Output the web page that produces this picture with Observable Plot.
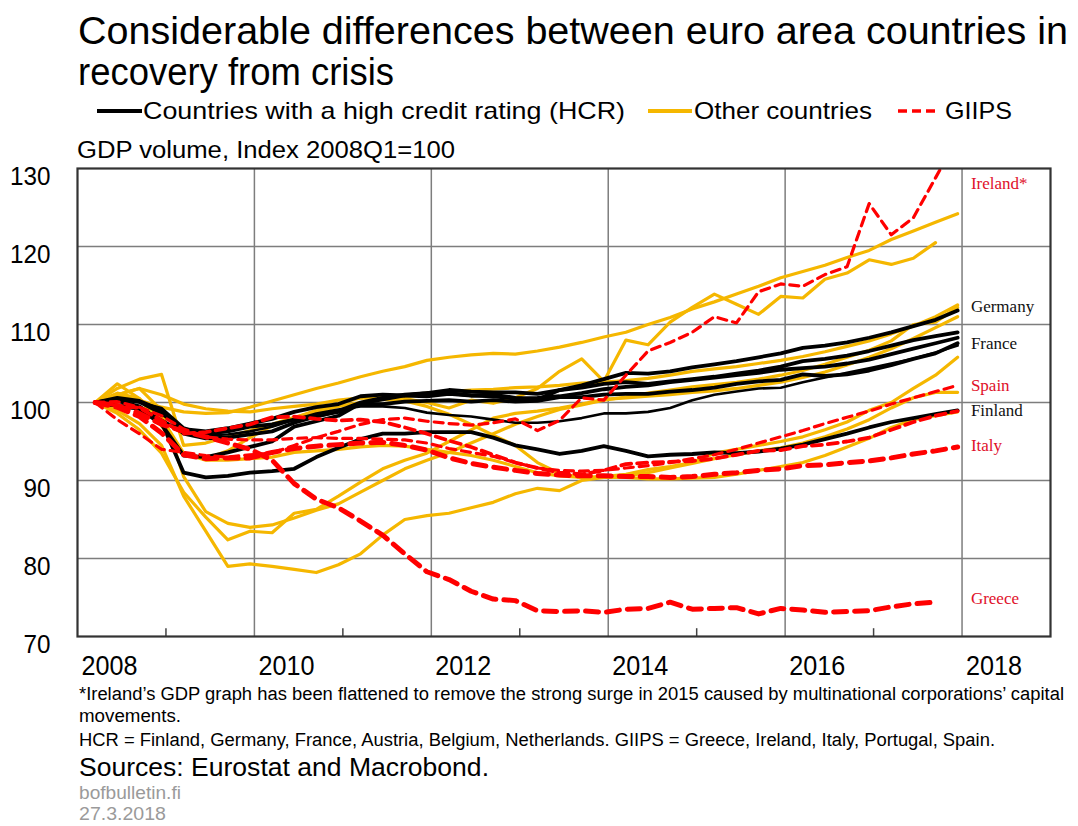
<!DOCTYPE html>
<html>
<head>
<meta charset="utf-8">
<script src="https://cdn.jsdelivr.net/npm/d3@7"></script>
<script src="https://cdn.jsdelivr.net/npm/@observablehq/plot@0.6"></script>
<style>
  html, body { margin: 0; padding: 0; background: #fff; }
  #wrap { position: relative; width: 1078px; height: 826px; overflow: hidden; font-family: "Liberation Sans", Arial, sans-serif; }
  #overlay { position: absolute; left: 0; top: 0; }
  #chart { position: absolute; left: 0; top: 120px; }
</style>
</head>
<body>
<div id="wrap">
  <svg id="overlay" width="1078" height="826" font-family="Liberation Sans, Arial, sans-serif">
    <text x="78" y="44" font-size="38" fill="#000" textLength="990" lengthAdjust="spacingAndGlyphs">Considerable differences between euro area countries in</text>
    <text x="78" y="85" font-size="38" fill="#000" textLength="316" lengthAdjust="spacingAndGlyphs">recovery from crisis</text>
    <line x1="97" x2="142" y1="111" y2="111" stroke="#000" stroke-width="4"/>
    <text x="143" y="119" font-size="24" fill="#000" textLength="482" lengthAdjust="spacingAndGlyphs">Countries with a high credit rating (HCR)</text>
    <line x1="648" x2="692" y1="111" y2="111" stroke="#F5B700" stroke-width="4"/>
    <text x="694" y="119" font-size="24" fill="#000" textLength="178" lengthAdjust="spacingAndGlyphs">Other countries</text>
    <line x1="898" x2="936" y1="111" y2="111" stroke="#FF0000" stroke-width="3.5" stroke-dasharray="9,5"/>
    <text x="945" y="119" font-size="24" fill="#000" textLength="67" lengthAdjust="spacingAndGlyphs">GIIPS</text>
    <text x="77" y="158" font-size="23" fill="#000" textLength="378" lengthAdjust="spacingAndGlyphs">GDP volume, Index 2008Q1=100</text>
    <text x="79" y="700" font-size="18" fill="#000" textLength="985" lengthAdjust="spacingAndGlyphs">*Ireland’s GDP graph has been flattened to remove the strong surge in 2015 caused by multinational corporations’ capital</text>
    <text x="79" y="722" font-size="18" fill="#000" textLength="102" lengthAdjust="spacingAndGlyphs">movements.</text>
    <text x="79" y="746" font-size="18" fill="#000" textLength="916" lengthAdjust="spacingAndGlyphs">HCR = Finland, Germany, France, Austria, Belgium, Netherlands. GIIPS = Greece, Ireland, Italy, Portugal, Spain.</text>
    <text x="79" y="776" font-size="26" fill="#000" textLength="410" lengthAdjust="spacingAndGlyphs">Sources: Eurostat and Macrobond.</text>
    <text x="79" y="799" font-size="18" fill="#9a9a9a" textLength="102" lengthAdjust="spacingAndGlyphs">bofbulletin.fi</text>
    <text x="79" y="820" font-size="18" fill="#9a9a9a" textLength="87" lengthAdjust="spacingAndGlyphs">27.3.2018</text>
  </svg>
  <div id="chart"></div>
</div>
<script>
// ---------- DATA ----------
const quarters = [
  "2008Q1","2008Q2","2008Q3","2008Q4","2009Q1","2009Q2","2009Q3","2009Q4",
  "2010Q1","2010Q2","2010Q3","2010Q4","2011Q1","2011Q2","2011Q3","2011Q4",
  "2012Q1","2012Q2","2012Q3","2012Q4","2013Q1","2013Q2","2013Q3","2013Q4",
  "2014Q1","2014Q2","2014Q3","2014Q4","2015Q1","2015Q2","2015Q3","2015Q4",
  "2016Q1","2016Q2","2016Q3","2016Q4","2017Q1","2017Q2","2017Q3","2017Q4"
];

// Countries with a high credit rating (HCR)
const germany = [100,99.6,99.2,97.2,93.2,93.0,93.6,94.3,95.0,96.9,97.6,98.3,99.9,100.4,100.9,100.8,101.1,100.9,101.0,100.6,100.4,101.6,102.2,103.0,103.8,103.7,104.0,104.5,104.9,105.3,105.8,106.3,107.0,107.3,107.7,108.3,109.0,109.8,110.6,111.8];
const austria = [100,100.6,100.2,99.0,96.0,95.4,95.5,95.9,96.3,97.4,98.2,98.9,100.0,100.6,101.0,101.2,101.6,101.4,101.3,101.3,101.1,101.6,101.9,102.4,102.6,102.4,102.7,103.0,103.3,103.7,104.1,104.6,105.3,105.6,106.0,106.6,107.3,108.0,108.5,109.0];
const belgium = [100,100.4,100.1,98.6,96.6,96.3,96.7,97.3,97.9,98.8,99.4,99.8,100.8,101.0,100.9,101.2,101.2,100.9,100.8,100.5,100.6,100.8,101.2,101.7,102.0,102.2,102.6,102.9,103.2,103.5,103.8,104.2,104.4,104.6,105.0,105.5,106.2,106.9,107.6,108.3];
const france = [100,99.6,99.2,97.7,96.1,96.0,96.3,96.9,97.2,97.8,98.3,98.8,99.8,99.8,100.1,100.2,100.3,100.1,100.3,100.1,100.2,100.7,100.7,101.0,101.1,101.1,101.4,101.6,101.9,102.4,102.7,102.9,103.6,103.4,103.6,104.1,104.8,105.6,106.3,107.6];
const netherlands = [100,100.5,100.0,99.3,96.8,95.8,95.9,96.3,96.9,97.8,98.6,99.1,99.5,99.5,99.3,98.7,98.4,98.2,97.8,97.4,97.4,97.6,98.0,98.6,98.6,98.8,99.3,100.3,101.0,101.4,101.8,101.9,102.6,103.2,103.8,104.4,105.0,105.6,106.4,107.3];
const finland = [100,100.2,99.5,97.5,91.0,90.4,90.6,91.0,91.2,91.5,93.0,94.2,95.3,96.0,96.0,96.2,96.2,96.2,95.5,94.5,94.0,93.4,93.8,94.4,93.8,93.1,93.3,93.4,93.6,93.5,93.7,94.1,94.6,95.3,96.0,96.8,97.5,98.0,98.5,99.0];

// Other countries
const malta = [100,101.0,100.3,99.4,98.8,98.6,98.7,99.4,100.2,101.0,101.8,102.5,103.3,104.0,104.6,105.4,105.8,106.1,106.3,106.2,106.6,107.1,107.7,108.4,109.0,110.0,110.9,112.0,112.9,113.9,114.9,116.0,116.8,117.6,118.6,119.5,120.9,122.0,123.1,124.2];
const luxembourg = [100,102.4,100.5,97.0,93.5,92.8,93.8,95.5,97.0,98.0,99.0,99.8,100.6,100.9,100.5,100.0,99.3,100.3,99.9,100.6,101.8,104.0,105.6,102.7,108.0,107.4,110.3,112.2,113.9,112.6,111.3,113.6,113.4,115.8,116.6,118.3,117.7,118.5,120.5,null];
const slovakia = [100,101.8,103.0,103.6,94.5,94.8,95.6,96.4,97.2,98.1,98.8,99.5,100.0,100.4,100.7,101.2,101.4,101.6,101.7,101.9,102.0,102.2,102.5,102.6,102.8,103.1,103.5,104.0,104.3,104.6,105.0,105.4,105.9,106.5,107.2,107.9,108.8,109.8,111.0,112.5];
const lithuania = [100,101.0,101.8,99.0,90.5,86.0,84.5,84.0,84.3,85.2,86.2,87.0,88.5,90.0,91.5,92.6,93.6,94.8,96.0,97.2,98.2,99.1,99.7,100.3,100.7,101.2,101.6,102.0,102.3,102.6,103.0,103.5,104.1,104.9,105.8,106.7,107.9,110.0,110.3,112.2];
const estonia = [100,98.6,96.5,93.5,88.5,85.3,82.4,83.5,83.3,85.8,86.3,88.0,89.8,91.5,92.6,93.5,95.0,96.5,98.0,98.6,98.9,99.3,99.8,100.4,100.6,100.8,101.0,101.3,101.5,101.8,102.2,102.6,103.2,103.9,104.8,105.8,106.9,108.2,109.6,111.0];
const latvia = [100,99.0,97.3,94.5,88.0,83.5,79.0,79.3,79.0,78.6,78.2,79.2,80.6,83.0,85.0,85.5,85.8,86.5,87.2,88.3,89.0,88.7,90.0,90.4,90.6,91.0,91.6,92.2,92.8,93.3,93.8,94.2,94.8,95.6,96.6,97.8,99.3,100.6,101.3,101.3];
const slovenia = [100,101.2,100.5,98.0,93.5,92.6,92.6,92.8,93.0,93.6,93.8,94.0,94.3,94.5,94.4,94.0,93.6,93.2,92.6,91.8,91.0,90.6,90.4,90.5,90.8,91.4,91.8,92.3,93.5,94.0,94.5,95.0,95.6,96.5,97.5,99.0,100.0,101.8,103.5,105.8];
const cyprus = [100,101.0,101.8,101.0,99.8,99.2,98.9,98.8,99.2,99.5,99.8,100.3,100.6,100.4,100.2,99.5,98.5,97.2,95.8,94.5,92.3,90.9,90.4,90.4,90.4,90.2,90.2,90.3,90.4,90.8,91.3,91.8,92.3,93.2,94.3,95.4,96.8,97.8,98.3,98.8];

// GIIPS
const greece = [100,99.6,98.6,97.2,96.3,95.6,94.8,94.0,92.6,89.6,87.6,86.5,84.8,83.0,80.6,78.3,77.3,75.8,74.8,74.6,73.3,73.2,73.3,73.1,73.5,73.6,74.4,73.5,73.6,73.7,72.9,73.6,73.4,73.1,73.2,73.3,73.8,74.2,74.4,null];
const ireland = [100,97.8,96.0,94.0,93.6,93.2,93.0,93.3,93.5,94.5,95.5,96.3,97.2,97.8,98.0,97.6,97.3,97.1,97.4,97.9,96.4,97.7,100.6,100.3,103.5,106.6,107.7,109.0,111.0,110.2,114.2,115.2,114.9,116.4,117.4,125.5,121.5,123.7,128.8,134.0];
const italy = [100,99.4,98.2,96.1,93.3,92.8,92.9,92.9,93.6,94.1,94.4,94.6,94.8,94.9,94.5,93.9,92.9,92.2,91.7,91.3,90.9,90.7,90.6,90.6,90.5,90.5,90.4,90.5,90.8,91.0,91.3,91.5,91.9,92.0,92.3,92.5,92.9,93.4,93.8,94.3];
const spain = [100,100.1,99.4,98.3,96.6,95.6,95.3,95.2,95.2,95.4,95.5,95.4,95.4,95.3,95.2,94.8,94.1,93.6,93.1,92.3,91.6,91.3,91.2,91.3,91.6,91.9,92.3,92.8,93.3,94.0,94.8,95.6,96.4,97.3,98.1,98.9,99.8,100.6,101.4,102.2];
const portugal = [100,99.6,99.3,97.7,96.0,96.2,96.7,97.2,98.1,98.2,97.9,97.7,97.8,97.5,96.8,96.0,95.1,94.3,93.3,92.3,91.6,91.0,90.8,91.3,92.1,92.3,92.4,92.5,92.8,93.3,93.8,93.9,94.4,94.6,95.0,95.5,96.5,97.5,98.3,98.9];

// Axis ticks and end labels
const yTicks = [70, 80, 90, 100, 110, 120, 130];
const xLabelYears = [2008, 2010, 2012, 2014, 2016, 2018];
const gridYears = [2010, 2012, 2014, 2016, 2018];
const minorYears = [2009, 2011, 2013, 2015, 2017];
const labelNames = ["Ireland*", "Germany", "France", "Spain", "Finland", "Italy", "Greece"];
const labelLevels = [128.1, 112.3, 107.6, 102.2, 99.0, 94.5, 74.9];
const labelGroups = ["GIIPS", "HCR", "HCR", "GIIPS", "HCR", "GIIPS", "GIIPS"];

// ---------- BUILD ----------
function qTime(q) { return +q.slice(0, 4) + (+q.slice(5) - 1) / 4 + 0.2; }
function series(name, values) {
  return values.map((v, i) => ({country: name, t: qTime(quarters[i]), v}))
               .filter(d => d.v != null);
}
const hcrThick = [...series("Germany", germany), ...series("Austria", austria), ...series("Belgium", belgium), ...series("France", france), ...series("Finland", finland)];
const hcrThin = series("Netherlands", netherlands);
const others = [...series("Malta", malta), ...series("Luxembourg", luxembourg), ...series("Slovakia", slovakia), ...series("Lithuania", lithuania),
                ...series("Estonia", estonia), ...series("Latvia", latvia), ...series("Slovenia", slovenia), ...series("Cyprus", cyprus)];
const giipsThick = [...series("Greece", greece), ...series("Italy", italy)];
const giipsMid = series("Portugal", portugal);
const giipsThin = [...series("Ireland", ireland), ...series("Spain", spain)];
const labels = labelNames.map((n, i) => ({name: n, v: labelLevels[i], g: labelGroups[i]}));

const YELLOW = "#F5B700", RED = "#FF0000";

const chart = Plot.plot({
  width: 1078, height: 560,
  marginLeft: 77, marginRight: 28, marginTop: 48, marginBottom: 44,
  x: {domain: [2008, 2019], label: null},
  y: {domain: [70, 130], label: null},
  style: {fontFamily: "Liberation Sans, Arial, sans-serif", background: "transparent", overflow: "visible"},
  marks: [
    Plot.gridY(yTicks.slice(1, -1), {stroke: "#7d7d7d", strokeOpacity: 1, strokeWidth: 1.5}),
    Plot.gridX(gridYears, {stroke: "#7d7d7d", strokeOpacity: 1, strokeWidth: 1.5}),
    Plot.ruleX(minorYears, {y1: 70, y2: 71, stroke: "#444", strokeWidth: 1.5}),
    Plot.lineY(others, {x: "t", y: "v", z: "country", stroke: YELLOW, strokeWidth: 3.2, clip: true}),
    Plot.lineY(hcrThin, {x: "t", y: "v", z: "country", stroke: "#000", strokeWidth: 2.6, clip: true}),
    Plot.lineY(hcrThick, {x: "t", y: "v", z: "country", stroke: "#000", strokeWidth: 3.8, clip: true}),
    Plot.lineY(giipsThin, {x: "t", y: "v", z: "country", stroke: RED, strokeWidth: 3.2, strokeDasharray: "9,6", clip: true}),
    Plot.lineY(giipsMid, {x: "t", y: "v", z: "country", stroke: RED, strokeWidth: 3.8, strokeDasharray: "10,6", clip: true}),
    Plot.lineY(giipsThick, {x: "t", y: "v", z: "country", stroke: RED, strokeWidth: 5, strokeDasharray: "13,8", clip: true}),
    Plot.frame({stroke: "#333", strokeWidth: 2.2}),
    Plot.axisY(yTicks, {tickSize: 0, tickPadding: 27, fontSize: 26, dy: 8, fill: "#000", label: null}),
    Plot.axisX(xLabelYears, {tickSize: 0, tickPadding: 19, fontSize: 28, textAnchor: "start", dx: 4, tickFormat: d => String(d), fill: "#000", label: null}),
    Plot.text(labels, {x: 2018.1, y: "v", text: "name", textAnchor: "start", fontSize: 17,
      fontFamily: "Liberation Serif, Times New Roman, serif",
      fill: d => d.g === "HCR" ? "#111" : "#E0102A"})
  ]
});
document.getElementById("chart").appendChild(chart);

// narrow-style x tick labels (Arial Narrow look)
d3.select(chart).selectAll('g[aria-label="x-axis tick label"] text')
  .attr("textLength", 56).attr("lengthAdjust", "spacingAndGlyphs");
d3.select(chart).selectAll('g[aria-label="y-axis tick label"] text')
  .attr("textLength", function() { return this.textContent.length * 13.5; })
  .attr("lengthAdjust", "spacingAndGlyphs");
</script>
</body>
</html>
